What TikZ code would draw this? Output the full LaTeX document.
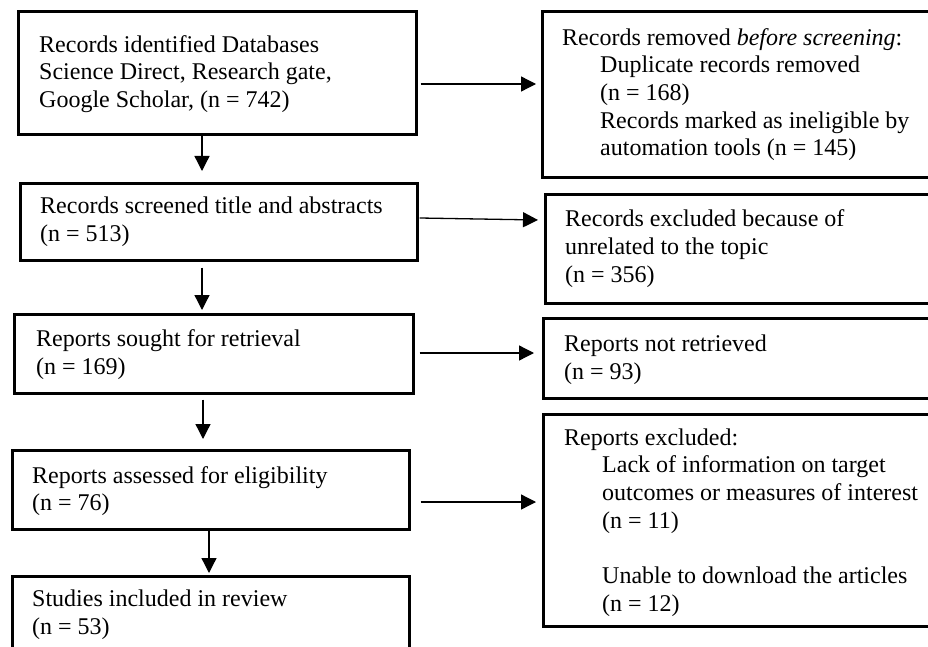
\documentclass[tikz,border=0pt]{standalone}
\usepackage{fontspec}
\setmainfont{Liberation Serif}
\usetikzlibrary{arrows.meta}
\begin{document}
\begin{tikzpicture}[x=1pt,y=-1pt,
  box/.style={draw, line width=2.7pt, rectangle, inner sep=0pt, anchor=north west},
  txt/.style={anchor=north west, inner sep=0pt, align=left, font=\fontsize{24}{27.7}\selectfont},
  arr/.style={line width=1.3pt, -{Triangle[length=15pt,width=15pt]}}]
\useasboundingbox (0,0) rectangle (928,647);
\clip (0,0) rectangle (928,647);
% left column boxes
\node[box, minimum width=398pt, minimum height=123pt] (b1) at (17,10) {};
\node[box, minimum width=397pt, minimum height=77pt] (b2) at (19,182) {};
\node[box, minimum width=399pt, minimum height=79pt] (b3) at (13,313) {};
\node[box, minimum width=397pt, minimum height=79pt] (b4) at (11,449) {};
\node[box, minimum width=397pt, minimum height=120pt] (b5) at (11,575) {};
% right column boxes
\node[box, minimum width=420pt, minimum height=166pt] (r1) at (541,10) {};
\node[box, minimum width=420pt, minimum height=109pt] (r2) at (544,193) {};
\node[box, minimum width=420pt, minimum height=80pt] (r3) at (542,317) {};
\node[box, minimum width=420pt, minimum height=212pt] (r4) at (542,413) {};
% texts
\node[txt] (t1) at (39,32.6) {\strut Records identified Databases\\Science Direct, Research gate,\\Google Scholar, (n = 742)};
\node[txt] (t2) at (40,194.1) {\strut Records screened title and abstracts\\(n = 513)};
\node[txt] (t3) at (36,327.1) {\strut Reports sought for retrieval\\(n = 169)};
\node[txt] (t4) at (32,463.6) {\strut Reports assessed for eligibility\\(n = 76)};
\node[txt] (t5) at (32,587.3) {\strut Studies included in review\\(n = 53)};
\node[txt] (tr1) at (562,25.6) {\strut Records removed \textit{before screening}:\\\hspace*{38pt}Duplicate records removed\\\hspace*{38pt}(n = 168)\\\hspace*{38pt}Records marked as ineligible by\\\hspace*{38pt}automation tools (n = 145)};
\node[txt] (tr2) at (565,207.3) {\strut Records excluded because of\\unrelated to the topic\\(n = 356)};
\node[txt] (tr3) at (564,332.3) {\strut Reports not retrieved\\(n = 93)};
\node[txt] (tr4) at (564,425.6) {\strut Reports excluded:\\\hspace*{38pt}Lack of information on target\\\hspace*{38pt}outcomes or measures of interest\\\hspace*{38pt}(n = 11)\\[27.7pt]\hspace*{38pt}Unable to download the articles\\\hspace*{38pt}(n = 12)};
% vertical connectors
\draw[arr] ([xshift=185pt]b1.south west) -- ([xshift=183pt,yshift=11pt]b2.north west);
\draw[arr] ([xshift=183pt,yshift=-6pt]b2.south west) -- ([xshift=189pt,yshift=3pt]b3.north west);
\draw[arr] ([xshift=190pt,yshift=-5pt]b3.south west) -- ([xshift=192pt,yshift=10pt]b4.north west);
\draw[arr] ([xshift=198pt]b4.south west) -- ([xshift=198pt,yshift=2pt]b5.north west);
% horizontal connectors
\draw[arr] ([xshift=3pt,yshift=-74pt]b1.north east) -- ([xshift=-5pt,yshift=-74pt]r1.north west);
\draw[arr] ([xshift=1pt,yshift=-36pt]b2.north east) -- ([xshift=-6pt,yshift=-27pt]r2.north west);
\draw[arr] ([xshift=5pt,yshift=-40pt]b3.north east) -- ([xshift=-8pt,yshift=-36pt]r3.north west);
\draw[arr] ([xshift=10pt,yshift=-53pt]b4.north east) -- ([xshift=-6pt,yshift=-89pt]r4.north west);
\end{tikzpicture}
\end{document}
